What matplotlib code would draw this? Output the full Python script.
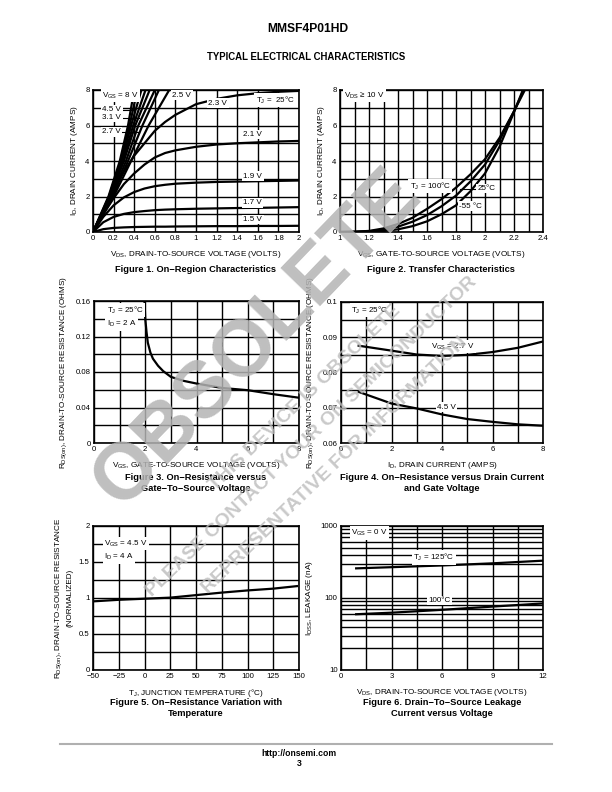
import numpy as np
import matplotlib
matplotlib.use("Agg")
import matplotlib.pyplot as plt
from matplotlib.ticker import FixedLocator, NullFormatter

plt.rcParams['font.family'] = ['Liberation Sans Narrow', 'Liberation Sans', 'DejaVu Sans']
BOLD = ['Liberation Sans', 'DejaVu Sans']

## Figure 1 - on-region characteristics
vds1 = [0, 0.1, 0.2, 0.3, 0.4, 0.5, 0.6, 0.7, 0.8, 1.0, 1.2, 1.4, 1.6, 1.8, 2.0]
id_23 = [0, 1.2, 2.4, 3.4, 4.3, 5.0, 5.7, 6.2, 6.6, 7.2, 7.5, 7.7, 7.82, 7.9, 7.95]
id_21 = [0, 1.0, 1.9, 2.7, 3.3, 3.8, 4.2, 4.45, 4.6, 4.8, 4.93, 5.0, 5.05, 5.1, 5.13]
id_19 = [0, 0.85, 1.5, 1.95, 2.25, 2.45, 2.58, 2.66, 2.72, 2.78, 2.82, 2.84, 2.86, 2.88, 2.9]
id_17 = [0, 0.55, 0.85, 1.02, 1.12, 1.18, 1.23, 1.26, 1.28, 1.31, 1.33, 1.35, 1.36, 1.38, 1.4]
id_15 = [0, 0.16, 0.23, 0.26, 0.28, 0.29, 0.30, 0.30, 0.31, 0.32, 0.33, 0.33, 0.34, 0.34, 0.35]
id_steep = [0, 2, 4, 6, 8]
vds_8 = [0, 0.15, 0.26, 0.34, 0.40]
vds_6 = [0, 0.155, 0.27, 0.355, 0.43]
vds_45 = [0, 0.16, 0.28, 0.37, 0.47]
vds_39 = [0, 0.165, 0.29, 0.39, 0.51]
vds_35 = [0, 0.17, 0.30, 0.41, 0.55]
vds_31 = [0, 0.18, 0.32, 0.44, 0.60]
vds_27 = [0, 0.19, 0.34, 0.48, 0.64]
vds_25 = [0, 0.20, 0.37, 0.54, 0.74]

## Figure 2 - transfer characteristics
vgs2 = [1.0, 1.1, 1.2, 1.3, 1.4, 1.5, 1.6, 1.7, 1.8, 1.9, 2.0, 2.1, 2.2, 2.3]
id_100c = [0.0, 0.02, 0.06, 0.2, 0.45, 0.8, 1.3, 1.85, 2.5, 3.25, 4.1, 5.3, 6.8, 8.4]
id_25c = [0.0, 0.01, 0.04, 0.12, 0.3, 0.58, 0.95, 1.45, 2.05, 2.85, 3.8, 5.15, 6.8, 8.6]
id_m55c = [0.0, 0.0, 0.02, 0.06, 0.15, 0.33, 0.6, 1.0, 1.5, 2.3, 3.3, 4.8, 6.75, 8.8]

## Figure 3 - Rds(on) vs Vgs
vgs3 = [1.97, 2.0, 2.05, 2.1, 2.2, 2.3, 2.5, 2.7, 3.0, 3.5, 4.0, 5.0, 6.0, 7.0, 8.0]
rds3 = [0.16, 0.14, 0.125, 0.113, 0.102, 0.095, 0.087, 0.081, 0.0745, 0.070, 0.067, 0.062, 0.0595, 0.055, 0.051]

## Figure 4 - Rds(on) vs Id
id4 = [0.7, 2, 3, 4, 5, 6, 7, 8]
rds_27 = [0.0876, 0.0862, 0.0851, 0.0847, 0.0850, 0.0858, 0.0870, 0.0888]
rds_45 = [0.0745, 0.0712, 0.0698, 0.0681, 0.0668, 0.0660, 0.0653, 0.0649]

## Figure 5 - normalized Rds(on) vs Tj
tj5 = [-48, -25, 0, 25, 50, 75, 100, 125, 148]
rnorm = [0.955, 0.975, 0.99, 1.005, 1.04, 1.075, 1.105, 1.13, 1.165]

## Figure 6 - leakage
vds6 = [0.9, 3, 6, 9, 12]
idss_125 = [258, 268, 283, 303, 330]
idss_100 = [59.5, 62.5, 68.5, 76, 84]

## tick / grid positions
x1_ticks = [0, 0.2, 0.4, 0.6, 0.8, 1.0, 1.2, 1.4, 1.6, 1.8, 2.0]
x1_labels = ['0', '0.2', '0.4', '0.6', '0.8', '1', '1.2', '1.4', '1.6', '1.8', '2']
y12_ticks = [0, 2, 4, 6, 8]
y12_grid = [1, 3, 5, 7]
x2_ticks = [1.0, 1.2, 1.4, 1.6, 1.8, 2.0, 2.2, 2.4]
x2_labels = ['1', '1.2', '1.4', '1.6', '1.8', '2', '2.2', '2.4']
x2_grid = [1.1, 1.3, 1.5, 1.7, 1.9, 2.1, 2.3]
x34_ticks = [0, 2, 4, 6, 8]
x34_grid = [1, 3, 5, 7]
y3_ticks = [0, 0.04, 0.08, 0.12, 0.16]
y3_labels = ['0', '0.04', '0.08', '0.12', '0.16']
y3_grid = [0.02, 0.06, 0.10, 0.14]
y4_ticks = [0.06, 0.07, 0.08, 0.09, 0.1]
y4_labels = ['0.06', '0.07', '0.08', '0.09', '0.1']
y4_grid = [0.065, 0.075, 0.085, 0.095]
x5_ticks = [-50, -25, 0, 25, 50, 75, 100, 125, 150]
x5_labels = ['\u221250', '\u221225', '0', '25', '50', '75', '100', '125', '150']
y5_ticks = [0, 0.5, 1, 1.5, 2]
y5_labels = ['0', '0.5', '1', '1.5', '2']
y5_grid = [0.25, 0.75, 1.25, 1.75]
x6_ticks = [0, 3, 6, 9, 12]
x6_grid = [1.5, 4.5, 7.5, 10.5]
y6_ticks = [10, 100, 1000]
y6_grid = [20, 30, 40, 50, 60, 70, 80, 90, 200, 300, 400, 500, 600, 700, 800, 900]

fig = plt.figure(figsize=(6.12, 7.92), dpi=100)
W, H = 612.0, 792.0


def px_axes(l, t, r, b):
    return fig.add_axes([l / W, 1 - b / H, (r - l) / W, (b - t) / H])


def set_ticks(ax, xt, xl, xg, yt, yl, yg):
    ax.xaxis.set_major_locator(FixedLocator(xt))
    ax.set_xticklabels(xl)
    ax.xaxis.set_minor_locator(FixedLocator(xg))
    ax.yaxis.set_major_locator(FixedLocator(yt))
    ax.set_yticklabels(yl)
    ax.yaxis.set_minor_locator(FixedLocator(yg))
    ax.xaxis.set_minor_formatter(NullFormatter())
    ax.yaxis.set_minor_formatter(NullFormatter())


def style(ax, xlab, ylab):
    ax.grid(True, which='both', color='black', lw=1.0)
    ax.set_axisbelow(True)
    ax.tick_params(which='both', length=0, labelsize=5.6, pad=2.5)
    for s in ax.spines.values():
        s.set_linewidth(1.2)
    ax.set_xlabel(xlab, fontsize=5.9, labelpad=5)
    ax.set_ylabel(ylab, fontsize=5.9, labelpad=4)


def label(ax, x, y, s, ha='left', fs=5.8):
    ax.text(x, y, s, ha=ha, va='center', fontsize=fs, zorder=5,
            bbox=dict(facecolor='white', edgecolor='none', pad=1.0))


def caption(x, y, s):
    fig.text(x / W, 1 - y / H, s, ha='center', va='center', fontsize=6.7,
             fontweight='bold', family=BOLD, linespacing=1.15)


LW = 1.6
VGS = r'V$_\mathregular{GS}$'
VDS = r'V$_\mathregular{DS}$'
TJ = r'T$_\mathregular{J}$'
IDL = r'I$_\mathregular{D}$'
RDS = r'R$_\mathregular{DS(on)}$'
ts = [str(v) for v in x34_ticks]

# ---- figure 1
ax1 = px_axes(93, 90, 299, 232)
for v in [id_23, id_21, id_19, id_17, id_15]:
    ax1.plot(vds1, v, color='black', lw=LW)
for v in [vds_8, vds_6, vds_45, vds_39, vds_35, vds_31, vds_27, vds_25]:
    ax1.plot(v, id_steep, color='black', lw=LW)
ax1.set_xlim(0, 2)
ax1.set_ylim(0, 8)
set_ticks(ax1, x1_ticks, x1_labels, [], y12_ticks, [str(v) for v in y12_ticks], y12_grid)
style(ax1, VDS + ', DRAIN-TO-SOURCE VOLTAGE (VOLTS)', IDL + ', DRAIN CURRENT (AMPS)')
label(ax1, 0.09, 7.7, VGS + ' = 8 V')
for y, s, x2 in [(6.9, '4.5 V', 0.40), (6.45, '3.1 V', 0.45), (5.65, '2.7 V', 0.44)]:
    ax1.plot([0.2, x2], [y, y], color='black', lw=0.8, zorder=4)
    label(ax1, 0.09, y, s)
label(ax1, 0.77, 7.7, '2.5 V')
label(ax1, 1.12, 7.25, '2.3 V')
label(ax1, 1.58, 7.45, TJ + ' =  25°C')
label(ax1, 1.46, 5.5, '2.1 V')
label(ax1, 1.46, 3.15, '1.9 V')
label(ax1, 1.46, 1.65, '1.7 V')
label(ax1, 1.46, 0.7, '1.5 V')
caption(196, 270, 'Figure 1. On\u2212Region Characteristics')

# ---- figure 2
ax2 = px_axes(340, 90, 543, 232)
for v in [id_100c, id_25c, id_m55c]:
    ax2.plot(vgs2, v, color='black', lw=LW)
ax2.set_xlim(1, 2.4)
ax2.set_ylim(0, 8)
set_ticks(ax2, x2_ticks, x2_labels, x2_grid, y12_ticks, [str(v) for v in y12_ticks], y12_grid)
style(ax2, VGS + ', GATE-TO-SOURCE VOLTAGE (VOLTS)', IDL + ', DRAIN CURRENT (AMPS)')
label(ax2, 1.03, 7.7, VDS + ' \u2265 10 V')
label(ax2, 1.48, 2.6, TJ + ' = 100°C')
ax2.plot([1.83, 1.94], [2.45, 2.45], color='black', lw=0.8, zorder=4)
label(ax2, 1.95, 2.45, '25°C')
label(ax2, 1.82, 1.45, '-55 °C')
caption(441, 270, 'Figure 2. Transfer Characteristics')

# ---- figure 3
ax3 = px_axes(94, 301, 299, 443)
ax3.plot(vgs3, rds3, color='black', lw=LW)
ax3.set_xlim(0, 8)
ax3.set_ylim(0, 0.16)
set_ticks(ax3, x34_ticks, ts, x34_grid, y3_ticks, y3_labels, y3_grid)
style(ax3, VGS + ', GATE-TO-SOURCE VOLTAGE (VOLTS)',
      RDS + ', DRAIN-TO-SOURCE RESISTANCE (OHMS)')
label(ax3, 0.5, 0.150, TJ + ' = 25°C')
label(ax3, 0.5, 0.134, IDL + ' = 2 A')
caption(196, 483, 'Figure 3. On\u2212Resistance versus\nGate\u2212To\u2212Source Voltage')

# ---- figure 4
ax4 = px_axes(341, 302, 543, 443)
ax4.plot(id4, rds_27, color='black', lw=LW)
ax4.plot(id4, rds_45, color='black', lw=LW)
ax4.set_xlim(0, 8)
ax4.set_ylim(0.06, 0.1)
set_ticks(ax4, x34_ticks, ts, x34_grid, y4_ticks, y4_labels, y4_grid)
style(ax4, IDL + ', DRAIN CURRENT (AMPS)',
      RDS + ', DRAIN-TO-SOURCE RESISTANCE (OHMS)')
label(ax4, 0.4, 0.0977, TJ + ' = 25°C')
label(ax4, 3.55, 0.0874, VGS + ' = 2.7 V')
label(ax4, 3.8, 0.0702, '4.5 V')
caption(442, 483, 'Figure 4. On\u2212Resistance versus Drain Current\nand Gate Voltage')

# ---- figure 5
ax5 = px_axes(93, 526, 299, 670)
ax5.plot(tj5, rnorm, color='black', lw=LW)
ax5.set_xlim(-50, 150)
ax5.set_ylim(0, 2)
set_ticks(ax5, x5_ticks, x5_labels, [], y5_ticks, y5_labels, y5_grid)
style(ax5, TJ + ', JUNCTION TEMPERATURE (°C)',
      RDS + ', DRAIN-TO-SOURCE RESISTANCE\n(NORMALIZED)')
label(ax5, -39, 1.755, VGS + ' = 4.5 V')
label(ax5, -39, 1.57, IDL + ' = 4 A')
caption(196, 708, 'Figure 5. On\u2212Resistance Variation with\nTemperature')

# ---- figure 6
ax6 = px_axes(341, 526, 543, 670)
ax6.plot(vds6, idss_125, color='black', lw=LW)
ax6.plot(vds6, idss_100, color='black', lw=LW)
ax6.set_yscale('log')
ax6.set_xlim(0, 12)
ax6.set_ylim(10, 1000)
set_ticks(ax6, x6_ticks, [str(v) for v in x6_ticks], x6_grid,
          y6_ticks, [str(v) for v in y6_ticks], y6_grid)
style(ax6, VDS + ', DRAIN-TO-SOURCE VOLTAGE (VOLTS)', r'I$_\mathregular{DSS}$, LEAKAGE (nA)')
label(ax6, 0.6, 800, VGS + ' = 0 V')
label(ax6, 4.3, 366, TJ + ' = 125°C')
label(ax6, 5.2, 92, '100°C')
caption(442, 708, 'Figure 6. Drain\u2212To\u2212Source Leakage\nCurrent versus Voltage')

# ---- page header / footer
fig.text(308 / W, 1 - 29 / H, 'MMSF4P01HD', ha='center', va='center',
         fontsize=8.7, fontweight='bold', family=BOLD)
fig.text(306 / W, 1 - 57 / H, 'TYPICAL ELECTRICAL CHARACTERISTICS', ha='center',
         va='center', fontsize=6.9, fontweight='bold', family=BOLD)
fig.add_artist(plt.Line2D([60 / W, 552 / W], [1 - 744 / H, 1 - 744 / H],
                          color='#b0b0b0', lw=1.5))
fig.text(299 / W, 1 - 753 / H, 'http://onsemi.com', ha='center', va='center',
         fontsize=6.2, fontweight='bold', family=BOLD)
fig.text(299 / W, 1 - 763 / H, '3', ha='center', va='center',
         fontsize=6.2, fontweight='bold', family=BOLD)

# ---- watermark
fig.text(258 / W, 1 - 338 / H, 'OBSOLETE', ha='center', va='center', rotation=46,
         rotation_mode='anchor', fontsize=57, fontweight='bold', family=BOLD,
         color='#b4b4b4', alpha=0.85, zorder=20)
for cx, cy, s in [(305, 398, 'THIS DEVICE IS OBSOLETE'),
                  (312, 437, 'PLEASE CONTACT YOUR ON SEMICONDUCTOR'),
                  (335, 465, 'REPRESENTATIVE FOR INFORMATION')]:
    fig.text(cx / W, 1 - cy / H, s, ha='center', va='center', rotation=44,
             rotation_mode='anchor', fontsize=14, fontweight='bold', family=BOLD,
             color='#bcbcbc', alpha=0.8, zorder=20)

fig.savefig('out.png', dpi=100)
